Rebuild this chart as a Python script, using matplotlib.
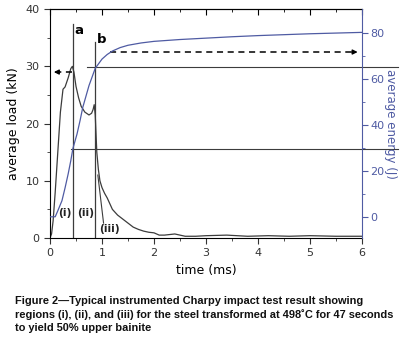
import matplotlib
matplotlib.use('Agg')
import matplotlib.pyplot as plt

# load trace (kN)
load_t = [0, 0.03, 0.06, 0.1, 0.15, 0.2, 0.25, 0.29, 0.35, 0.4, 0.43, 0.46, 0.5, 0.55,
          0.6, 0.67, 0.75, 0.8, 0.83, 0.85, 0.87, 0.9, 0.93, 0.96, 1.0, 1.05, 1.1, 1.2,
          1.3, 1.4, 1.5, 1.6, 1.7, 1.8, 1.9, 2.0, 2.1, 2.2, 2.4, 2.6, 2.8, 3.0, 3.4,
          3.8, 4.2, 4.6, 5.0, 5.5, 6.0]
load = [0, 0.7, 3, 8, 15, 22, 26, 26.4, 28, 29.6, 30, 29, 26.5, 24.5,
        23, 22, 21.5, 21.8, 22.5, 23.3, 21.5, 15, 12, 10, 8.8, 7.8, 7, 5,
        4, 3.3, 2.6, 1.9, 1.5, 1.2, 1.0, 0.9, 0.5, 0.5, 0.7, 0.3, 0.3, 0.4, 0.5,
        0.3, 0.4, 0.3, 0.4, 0.3, 0.3]

# absorbed energy (J)
en_t = [0, 0.1, 0.15, 0.23, 0.29, 0.35, 0.4, 0.44, 0.52, 0.58, 0.63, 0.75, 0.87,
        1.0, 1.1, 1.2, 1.35, 1.5, 1.75, 2.0, 2.5, 3.0, 3.5, 4.0, 4.5, 5.0, 5.5, 6.0]
energy = [0, 0, 2.6, 7, 12.6, 18.7, 24.4, 29.6, 36, 42, 47.5, 57, 64.5,
          68.5, 70.5, 72, 73.5, 74.5, 75.5, 76.2, 77, 77.6, 78.2, 78.7, 79.1, 79.5, 79.8, 80.1]

t_a, t_b = 0.44, 0.87
regions = ['(i)', '(ii)', '(iii)']
region_xy = [(0.28, 4.4), (0.68, 4.3), (1.15, 1.5)]

blue = '#4f5ba3'
grey = '#3c3c3c'

fig = plt.figure(figsize=(4, 3.51), dpi=100)
ax = fig.add_axes([0.125, 0.322, 0.78, 0.652])
ax2 = ax.twinx()

ax.plot(load_t, load, color=grey, lw=0.9)
ax2.plot(en_t, energy, color=blue, lw=0.9)

# region boundaries
ax.plot([t_a, t_a], [0, 37.4], color=grey, lw=0.9)
ax.plot([t_b, t_b], [0, 34.2], color=grey, lw=0.9)
ax.text(t_a + 0.02, 36.3, 'a', fontsize=9.5, fontweight='bold', va='center')
ax.text(t_b + 0.04, 34.7, 'b', fontsize=9.5, fontweight='bold', va='center')

# horizontal guide lines (run past the right axis)
ax.plot([0.4, 6.7], [15.6, 15.6], color=grey, lw=0.8, clip_on=False)
ax.plot([0.71, 6.7], [29.8, 29.8], color=grey, lw=0.8, clip_on=False)

# dashed arrows
ax.plot([1.15, 5.85], [32.5, 32.5], color='k', lw=1.1, ls=(0, (4, 3)))
ax.annotate('', xy=(5.97, 32.5), xytext=(5.75, 32.5),
            arrowprops=dict(arrowstyle='-|>', color='k', lw=1, mutation_scale=7))
ax.plot([0.42, 0.13], [29, 29], color='k', lw=1.1, ls=(0, (4, 3)))
ax.annotate('', xy=(0.02, 29), xytext=(0.22, 29),
            arrowprops=dict(arrowstyle='-|>', color='k', lw=1, mutation_scale=7))

# leader to (iii)
ax.plot([0.92, 1.03], [11, 2.6], color=grey, lw=0.8)
for lab, (x, y) in zip(regions, region_xy):
    ax.text(x, y, lab, fontsize=7.8, fontweight='bold', ha='center', va='center', color='#222222')

ax.set_xlim(0, 6)
ax.set_ylim(0, 40)
ax2.set_ylim(-9.2, 90.2)

ax.set_xticks(range(7))
ax.set_xticks([0.5 + i for i in range(6)], minor=True)
ax.set_yticks([0, 10, 20, 30, 40])
ax.set_yticks([5, 15, 25, 35], minor=True)
ax2.set_yticks([0, 20, 40, 60, 80])
ax2.set_yticks([10, 30, 50, 70], minor=True)

ax.tick_params(which='both', direction='out', labelsize=8, colors='#333333')
ax.tick_params(which='major', length=4)
ax.tick_params(which='minor', length=2)
ax2.tick_params(which='both', direction='out', colors=blue, labelsize=8, pad=2)
ax2.tick_params(which='major', length=4)
ax2.tick_params(which='minor', length=2)

top = ax.secondary_xaxis('top')
top.set_xticks(range(7))
top.set_xticks([0.5 + i for i in range(6)], minor=True)
top.tick_params(which='both', direction='in', labeltop=False, length=4)
top.tick_params(which='minor', length=2)

ax.spines['right'].set_visible(False)
ax2.spines['right'].set_color(blue)
for s in ['left', 'top', 'bottom']:
    ax2.spines[s].set_visible(False)

ax.set_xlabel('time (ms)', fontsize=9, labelpad=4)
ax.set_ylabel('average load (kN)', fontsize=9, labelpad=4)
ax2.set_ylabel('average energy (J)', fontsize=8.5, color=blue, rotation=270,
               va='center', ha='center')
ax2.yaxis.set_label_coords(1.09, 0.5)

caption = ('Figure 2\u2014Typical instrumented Charpy impact test result showing\n'
           'regions (i), (ii), and (iii) for the steel transformed at 498\u02daC for 47 seconds\n'
           'to yield 50% upper bainite')
fig.text(0.037, 0.157, caption, fontsize=7.9, fontweight='bold', family='Liberation Sans',
         va='top', ha='left', linespacing=1.35, color='#111111')

fig.savefig('out.png', dpi=100)
